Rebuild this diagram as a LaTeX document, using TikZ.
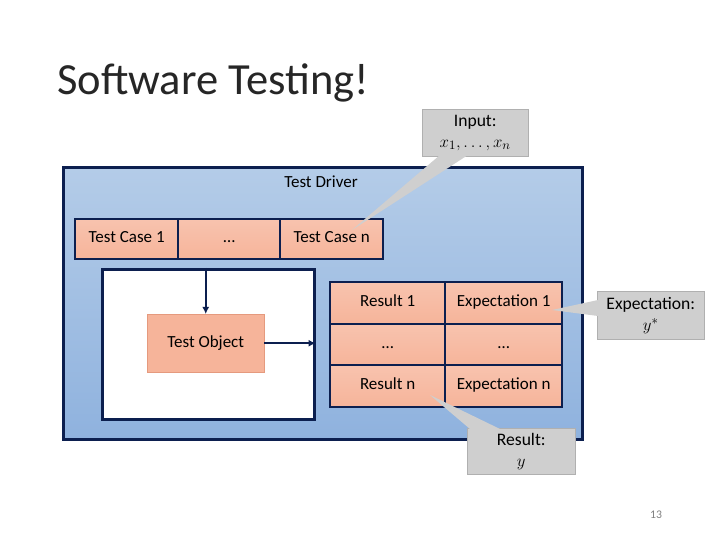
\documentclass[tikz,border=0pt]{standalone}
\usepackage{fontspec}
\setmainfont{Carlito}
\usetikzlibrary{arrows.meta}
\definecolor{navy}{HTML}{0C1F4F}
\definecolor{drvtop}{HTML}{B4CCE8}
\definecolor{drvbot}{HTML}{8FB2DE}
\definecolor{cellfill}{HTML}{F6B49A}
\definecolor{cellline}{HTML}{E59A7E}
\definecolor{callfill}{HTML}{CFCFCF}
\definecolor{callline}{HTML}{B0B0B0}

\tikzset{
  cell/.style = {
  draw = navy,
  line width = 2pt,
  top color = cellfill!80,
  bottom color = cellfill,
  inner sep = 0pt,
  text height = 1.6ex,
  text depth = 0.3ex,
  font = \fontsize{14.5}{16}\selectfont},
  callout/.style = {
  draw = callline,
  fill = callfill,
  inner sep = 0pt,
  align = center,
  font = \fontsize{15}{18}\selectfont},
  flow/.style = {
  draw = navy,
  line width = 2pt,
  -{Latex[length=6pt,width=6pt]}}}

\begin{document}
\begin{tikzpicture}[x=0.03cm, y=-0.03cm]
  \useasboundingbox (0,0) rectangle (720,540);

  \node[anchor=base west, inner sep=0pt, text=black!85, font=\fontsize{38}{42}\selectfont] (title) at (57,95) {Software Testing!};

  % driver frame
  \node[draw=navy, line width=2.2pt, top color=drvtop, bottom color=drvbot,
        minimum width=519*0.03cm, minimum height=272*0.03cm, inner sep=0pt,
        anchor=north west] (driver) at (62,166) {};
  \node[font=\fontsize{14.5}{16}\selectfont] (drvlabel) at (321,182) {Test Driver};

  % test cases
  \node[cell, minimum width=103*0.03cm, minimum height=40*0.03cm, anchor=north west] (TC1) at (74,218) {Test Case 1};
  \node[cell, minimum width=102*0.03cm, minimum height=40*0.03cm, anchor=north west] (TC2) at (177,218) {\dots};
  \node[cell, minimum width=103*0.03cm, minimum height=40*0.03cm, anchor=north west] (TC3) at (279,218) {Test Case n};

  % test object frame
  \node[draw=navy, line width=2.2pt, fill=white, minimum width=212*0.03cm,
        minimum height=150*0.03cm, inner sep=0pt, anchor=north west] (frame) at (101,268) {};
  \node[draw=cellline, fill=cellfill, minimum width=117*0.03cm, minimum height=58*0.03cm,
        inner sep=0pt, font=\fontsize{14.5}{16}\selectfont, anchor=north west] (obj) at (147,314) {Test Object};

  % results and expectations
  \foreach \row/\y/\res/\exp in {1/281/Result 1/Expectation 1, 2/323/\dots/\dots, 3/364/Result n/Expectation n} {
    \node[cell, minimum width=115*0.03cm, minimum height=42*0.03cm, anchor=north west] (R\row) at (329,\y) {\res};
    \node[cell, minimum width=117*0.03cm, minimum height=42*0.03cm, anchor=north west] (E\row) at (444,\y) {\exp};
  }

  \draw[flow] (frame.north -| obj.north) -- (obj.north);
  \draw[flow] (obj.east) -- (obj.east -| frame.east);

  % callouts
  \coordinate (inTip) at (352,230);
  \coordinate (expTip) at (552,310);
  \coordinate (resTip) at (430,395);
  \node[callout, minimum width=106*0.03cm, minimum height=47*0.03cm, anchor=north west] (inCall) at (422,109) {Input:\\$x_1,\dots,x_n$};
  \node[callout, minimum width=107*0.03cm, minimum height=48*0.03cm, anchor=north west] (expCall) at (597,291) {Expectation:\\$y^*$};
  \node[callout, minimum width=108*0.03cm, minimum height=46*0.03cm, anchor=north west] (resCall) at (467,428) {Result:\\$y$};
  \fill[callfill] (440,155) -- (inTip) -- (468,155) -- cycle;
  \fill[callfill] (598,300) -- (expTip) -- (598,316) -- cycle;
  \fill[callfill] (470,429) -- (resTip) -- (500,429) -- cycle;

  \node[text=gray, font=\fontsize{10}{11}\selectfont] (page) at (656,515) {13};
\end{tikzpicture}
\end{document}
